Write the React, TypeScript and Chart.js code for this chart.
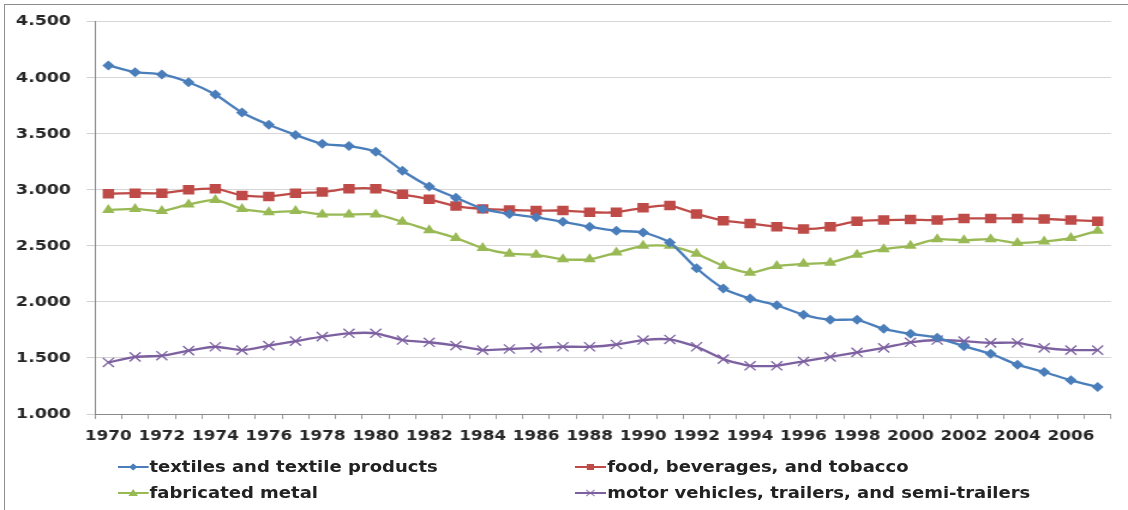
import React, { useEffect, useRef } from 'react';
import { Chart, registerables } from 'chart.js';

Chart.register(...registerables);

const years = [
  '1970', '1971', '1972', '1973', '1974', '1975', '1976', '1977', '1978', '1979',
  '1980', '1981', '1982', '1983', '1984', '1985', '1986', '1987', '1988', '1989',
  '1990', '1991', '1992', '1993', '1994', '1995', '1996', '1997', '1998', '1999',
  '2000', '2001', '2002', '2003', '2004', '2005', '2006', '2007',
];

const textiles = [
  4.11, 4.05, 4.03, 3.96, 3.85, 3.69, 3.58, 3.49, 3.41, 3.39,
  3.34, 3.17, 3.03, 2.93, 2.83, 2.785, 2.755, 2.715, 2.67, 2.635,
  2.62, 2.53, 2.30, 2.12, 2.03, 1.97, 1.885, 1.84, 1.84, 1.76,
  1.715, 1.68, 1.605, 1.537, 1.44, 1.375, 1.30, 1.24,
];

const food = [
  2.965, 2.97, 2.97, 3.0, 3.01, 2.95, 2.94, 2.97, 2.98, 3.01,
  3.01, 2.96, 2.915, 2.855, 2.83, 2.82, 2.815, 2.815, 2.80, 2.80,
  2.84, 2.86, 2.785, 2.725, 2.70, 2.67, 2.65, 2.67, 2.72, 2.73,
  2.735, 2.73, 2.745, 2.745, 2.745, 2.74, 2.73, 2.72,
];

const metal = [
  2.82, 2.83, 2.81, 2.87, 2.91, 2.83, 2.80, 2.81, 2.78, 2.78,
  2.78, 2.715, 2.64, 2.57, 2.48, 2.43, 2.42, 2.38, 2.38, 2.44,
  2.50, 2.50, 2.43, 2.32, 2.26, 2.32, 2.34, 2.35, 2.42, 2.47,
  2.50, 2.56, 2.55, 2.56, 2.525, 2.54, 2.57, 2.635,
];

const motor = [
  1.46, 1.51, 1.52, 1.565, 1.60, 1.57, 1.61, 1.65, 1.69, 1.72,
  1.72, 1.66, 1.64, 1.61, 1.57, 1.58, 1.59, 1.60, 1.60, 1.62,
  1.66, 1.665, 1.60, 1.49, 1.43, 1.43, 1.47, 1.51, 1.55, 1.59,
  1.64, 1.66, 1.65, 1.635, 1.635, 1.59, 1.57, 1.57,
];

const seriesNames = [
  'textiles and textile products',
  'food, beverages, and tobacco',
  'fabricated metal',
  'motor vehicles, trailers, and semi-trailers',
];

const BLUE = '#4a7ebb';
const RED = '#be4b48';
const GREEN = '#98b954';
const PURPLE = '#7d60a0';

const S = 1.2; // horizontal stretch of the whole picture
const W = 940;
const H = 510;

const LegendMarker = ({ kind, color }: { kind: string; color: string }) => {
  let marker: React.ReactNode = null;
  if (kind === 'diamond') marker = <polygon points="13,2.5 16.5,6 13,9.5 9.5,6" fill={color} />;
  if (kind === 'square') marker = <rect x="10" y="3" width="6" height="6" fill={color} />;
  if (kind === 'triangle') marker = <polygon points="13,2 17,9 9,9" fill={color} />;
  if (kind === 'cross')
    marker = (
      <g stroke={color} strokeWidth="1" opacity="0.7">
        <line x1="9.5" y1="3" x2="16.5" y2="9" />
        <line x1="9.5" y1="9" x2="16.5" y2="3" />
      </g>
    );
  return (
    <svg width="26" height="12" style={{ display: 'block', flex: 'none' }}>
      <line x1="0" y1="6" x2="26" y2="6" stroke={color} strokeWidth="2" />
      {marker}
    </svg>
  );
};

export default function App() {
  const ref = useRef<HTMLCanvasElement>(null);

  useEffect(() => {
    const canvas = ref.current;
    if (!canvas) return;
    const tickColor = '#262626';
    const chart = new Chart(canvas, {
      type: 'line',
      data: {
        labels: years,
        datasets: [
          {
            label: seriesNames[0],
            data: textiles,
            borderColor: BLUE,
            backgroundColor: BLUE,
            borderWidth: 2.3,
            pointStyle: 'rectRot',
            pointRadius: 5,
            pointBorderWidth: 0,
            tension: 0.2,
          },
          {
            label: seriesNames[1],
            data: food,
            borderColor: RED,
            backgroundColor: RED,
            borderWidth: 2.3,
            pointStyle: 'rect',
            pointRadius: 6.7,
            pointBorderWidth: 0,
            tension: 0.2,
          },
          {
            label: seriesNames[2],
            data: metal,
            borderColor: GREEN,
            backgroundColor: GREEN,
            borderWidth: 2.3,
            pointStyle: 'triangle',
            pointRadius: 6,
            pointBorderWidth: 0,
            tension: 0.2,
          },
          {
            label: seriesNames[3],
            data: motor,
            borderColor: PURPLE,
            backgroundColor: PURPLE,
            borderWidth: 2.3,
            pointStyle: 'crossRot',
            pointRadius: 6.5,
            pointBorderWidth: 1.3,
            pointBorderColor: PURPLE,
            tension: 0.2,
          },
        ],
      },
      options: {
        responsive: false,
        maintainAspectRatio: false,
        animation: false,
        devicePixelRatio: 1,
        layout: { padding: { left: 0, right: W - 1111 / S, top: 20, bottom: 56 } },
        plugins: {
          legend: { display: false },
          tooltip: { enabled: false },
        },
        scales: {
          x: {
            type: 'category',
            offset: true,
            grid: {
              display: true,
              drawOnChartArea: false,
              offset: true,
              tickLength: 5,
              color: '#9a9a9a',
            },
            border: { display: true, color: '#8a8a8a', width: 1 },
            ticks: {
              autoSkip: false,
              maxRotation: 0,
              minRotation: 0,
              padding: 9,
              color: tickColor,
              font: { family: "'DejaVu Sans', Verdana, sans-serif", size: 14, weight: 'bold' },
              callback: (_v: any, i: number) => (i % 2 === 0 ? years[i] : ''),
            },
            afterFit: (scale: any) => {
              scale.height = 40;
            },
          },
          y: {
            min: 1,
            max: 4.5,
            grid: {
              color: '#d6d6d6',
              tickLength: 7,
              tickColor: '#d0d0d0',
            },
            border: { display: true, color: '#8a8a8a', width: 1 },
            ticks: {
              stepSize: 0.5,
              padding: 13,
              color: tickColor,
              font: { family: "'DejaVu Sans', Verdana, sans-serif", size: 14.5, weight: 'bold' },
              callback: (v: any) => Number(v).toFixed(3),
            },
            afterFit: (scale: any) => {
              scale.width = 95 / S;
            },
          },
        },
      },
    });
    return () => chart.destroy();
  }, []);

  const legendItems = [
    { name: seriesNames[0], kind: 'diamond', color: BLUE, left: 97.5, cy: 466.5 },
    { name: seriesNames[1], kind: 'square', color: RED, left: 479, cy: 466.5 },
    { name: seriesNames[2], kind: 'triangle', color: GREEN, left: 97.5, cy: 493 },
    { name: seriesNames[3], kind: 'cross', color: PURPLE, left: 479, cy: 493 },
  ];

  return (
    <div
      style={{
        position: 'absolute',
        left: 0,
        top: 0,
        width: 1128,
        height: 510,
        overflow: 'hidden',
        background: '#ffffff',
      }}
    >
      <div
        style={{
          position: 'absolute',
          left: 4,
          top: 4,
          width: 1300,
          height: 700,
          borderTop: '1px solid #8e8e8e',
          borderLeft: '1px solid #8e8e8e',
        }}
      />
      <div
        style={{
          position: 'absolute',
          left: 0,
          top: 0,
          width: W,
          height: H,
          transform: `scaleX(${S})`,
          transformOrigin: '0 0',
        }}
      >
        <canvas ref={ref} width={W} height={H} style={{ display: 'block', width: W, height: H }} />
        {legendItems.map((it) => (
          <div
            key={it.name}
            style={{
              position: 'absolute',
              left: it.left,
              top: it.cy - 10,
              height: 20,
              display: 'flex',
              alignItems: 'center',
              whiteSpace: 'nowrap',
              fontFamily: "'DejaVu Sans', Verdana, sans-serif",
              fontWeight: 'bold',
              fontSize: 15,
              lineHeight: '20px',
              color: '#222222',
            }}
          >
            <LegendMarker kind={it.kind} color={it.color} />
            <span style={{ marginLeft: 1 }}>{it.name}</span>
          </div>
        ))}
      </div>
    </div>
  );
}
